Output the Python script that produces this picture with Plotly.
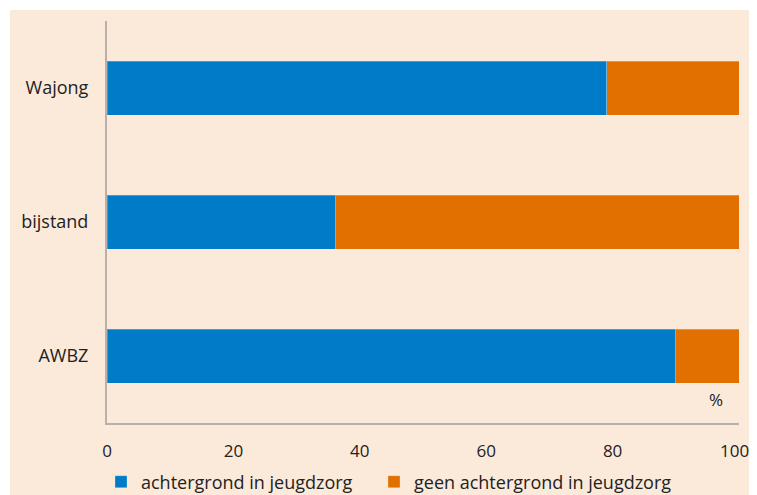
import plotly.graph_objects as go

categories = ["Wajong", "bijstand", "AWBZ"]
met_jeugdzorg = [79.1, 36.1, 89.9]
zonder_jeugdzorg = [20.9, 63.9, 10.1]
series_names = ["achtergrond in jeugdzorg", "geen achtergrond in jeugdzorg"]
tick_values = [0, 20, 40, 60, 80, 100]
tick_labels = ["0", "20", "40", "60", "80", "100\u00a0\u00a0"]

BLUE = "#007BC7"
ORANGE = "#E17000"
PEACH = "#FBE9DA"
AXIS = "#B8B0A9"
TEXT = "#222222"

# the page body has an 8px margin; figure pixels = page pixels - 8
OFF = 8
W, H = 757 - OFF, 495 - OFF
PLOT_L, PLOT_R, PLOT_T, PLOT_B = 107, 739, 21, 423  # page pixels
L, R, T, B = PLOT_L - OFF, W - (PLOT_R - OFF), PLOT_T - OFF, H - (PLOT_B - OFF)
pw, ph = W - L - R, H - T - B

def px_x(page_px):
    return (page_px - OFF - L) / pw

def px_y(page_py):
    return (H - B - (page_py - OFF)) / ph

fig = go.Figure()
fig.add_trace(go.Bar(
    y=categories, x=met_jeugdzorg, name=series_names[0], orientation="h",
    legendwidth=228,
    marker=dict(color=BLUE, line=dict(color="rgba(255,255,255,0.25)", width=1)),
))
fig.add_trace(go.Bar(
    y=categories, x=zonder_jeugdzorg, name=series_names[1], orientation="h",
    legendwidth=300,
    marker=dict(color=ORANGE, line=dict(color="rgba(255,255,255,0.25)", width=1)),
))

fig.add_shape(type="rect", xref="paper", yref="paper", layer="below",
              x0=px_x(10), x1=px_x(800), y0=px_y(560), y1=px_y(10),
              fillcolor=PEACH, line=dict(width=0))

fig.add_annotation(text="%", xref="paper", yref="paper",
                   x=px_x(725), y=px_y(413),
                   showarrow=False, font=dict(size=17, color=TEXT))

fig.update_layout(
    width=W, height=H,
    margin=dict(l=L, r=R, t=T, b=B, autoexpand=False),
    paper_bgcolor="white",
    plot_bgcolor="rgba(0,0,0,0)",
    barmode="stack",
    bargap=0.597,
    font=dict(family="Open Sans", size=18, color=TEXT),
    showlegend=True,
    legend=dict(orientation="h", x=px_x(101), y=px_y(482),
                xanchor="left", yanchor="middle", bgcolor="rgba(0,0,0,0)",
                font=dict(size=18, color=TEXT),
                traceorder="normal"),
    xaxis=dict(range=[0, 100], tickvals=tick_values, ticktext=tick_labels,
               tickfont=dict(size=17), ticklabeloverflow="allow",
               showgrid=False, zeroline=False, showline=True, linecolor=AXIS,
               linewidth=2, ticks="", ticklabelstandoff=12, automargin=False),
    yaxis=dict(autorange="reversed", showgrid=False, zeroline=False,
               showline=True, linecolor=AXIS, linewidth=2, ticks="",
               ticklabelstandoff=13, automargin=False),
)

fig.write_html("out.html")
